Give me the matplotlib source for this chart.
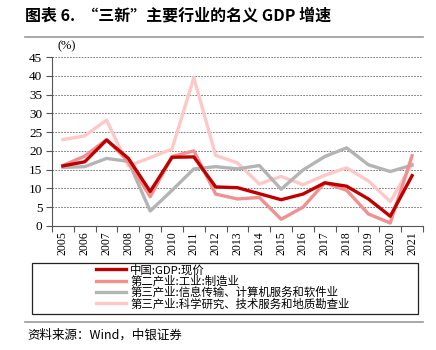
# "三新"主要行业的名义GDP增速 chart
import matplotlib
matplotlib.use("Agg")
import matplotlib.pyplot as plt
from matplotlib.patches import Rectangle

plt.rcParams['font.family'] = ['Noto Sans CJK SC', 'DejaVu Sans']

years = [str(y) for y in range(2005, 2022)]
gdp = [16.0, 17.1, 22.9, 18.0, 9.2, 18.3, 18.4, 10.4, 10.2, 8.6, 7.0, 8.5, 11.5, 10.6, 7.2, 2.6, 13.4]
industry = [16.1, 18.6, 23.0, 17.2, 7.8, 18.5, 20.0, 8.5, 7.2, 7.6, 1.8, 5.0, 11.5, 9.5, 3.2, 0.8, 18.7]
info_tech = [15.6, 15.8, 18.0, 17.2, 4.0, 9.5, 15.2, 15.8, 15.2, 16.1, 9.8, 14.9, 18.5, 20.8, 16.3, 14.5, 16.2]
sci_tech = [23.0, 24.0, 28.2, 16.0, 18.2, 20.5, 39.5, 18.8, 16.8, 11.2, 13.2, 11.0, 13.5, 15.5, 12.0, 6.5, 16.5]

labels = ['中国:GDP:现价', '第二产业:工业:制造业',
          '第三产业:信息传输、计算机服务和软件业',
          '第三产业:科学研究、技术服务和地质勘查业']
colors = ['#C00000', '#F09090', '#B4B4B4', '#FFC8C8']

fig = plt.figure(figsize=(4.36, 3.5), dpi=100)
ax = fig.add_axes([52/436, 1-226/350, 371/436, 169/350])

x = list(range(len(years)))
# draw back to front so the GDP line sits on top
series = [gdp, industry, info_tech, sci_tech]
handles = []
for i in [3, 2, 1, 0]:
    h, = ax.plot(x, series[i], color=colors[i], lw=2.4, label=labels[i], zorder=3+(3-i))
    handles.append(h)
handles = handles[::-1]

ax.set_xlim(-0.5, len(years)-0.5)
ax.set_ylim(0, 45)
ax.set_yticks(range(0, 46, 5))
ax.set_xticks(x)
ax.set_xticklabels(years, rotation=90, family='Liberation Serif', fontsize=8.5)
ax.set_xticks([i-0.5 for i in range(len(years)+1)], minor=True)
ax.tick_params(axis='x', which='major', length=0, pad=4)
ax.tick_params(axis='x', which='minor', length=4, width=0.8, color='#555555')
ax.tick_params(axis='y', length=4, width=0.8, color='#555555', pad=3)
for t in ax.get_yticklabels():
    t.set_family('Liberation Serif')
    t.set_fontsize(9.5)
ax.grid(axis='y', linestyle=(0, (2, 1.5)), color='#666666', lw=0.6)
for s in ['top', 'right']:
    ax.spines[s].set_visible(False)
ax.spines['left'].set_color('#555555')
ax.spines['bottom'].set_color('#555555')
ax.text(67/436, 1-46/350, '(%)', transform=fig.transFigure, family='Liberation Serif',
        fontsize=9, ha='center', va='center')

# title and rules
fig.text(25/436, 1-16/350, '图表 6.  “三新”主要行业的名义 GDP 增速', fontsize=11.5,
         fontweight='bold', va='center', ha='left')
fig.add_artist(plt.Line2D([25/436, 423/436], [1-37/350, 1-37/350], color='#999999', lw=1.2))
fig.add_artist(plt.Line2D([25/436, 423/436], [1-322/350, 1-322/350], color='#999999', lw=1.2))
fig.text(27/436, 1-335/350, '资料来源：Wind，中银证券', fontsize=9, style='italic',
         va='center', ha='left')

# legend box
fig.add_artist(Rectangle((32/436, 1-314/350), 386/436, 51/350, transform=fig.transFigure,
                         fill=False, edgecolor='#222222', lw=0.9))
fig.legend(handles, labels, loc='upper left', bbox_to_anchor=(96/436, 1-264/350),
           frameon=False, fontsize=8.2, handlelength=2.6, handletextpad=0.4,
           labelspacing=0.0, borderaxespad=0, borderpad=0)

fig.savefig('out.png', dpi=100)
